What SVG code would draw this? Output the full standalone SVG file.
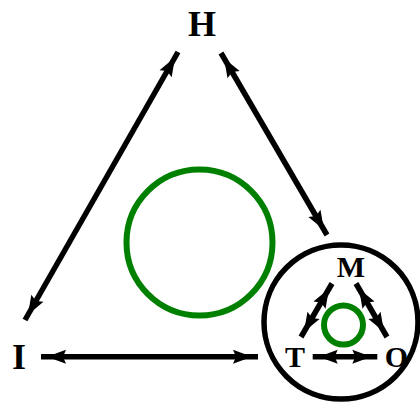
<svg xmlns="http://www.w3.org/2000/svg" width="420" height="405" viewBox="0 0 420 405">
<style>
.lbl{font-family:"Liberation Serif","Times New Roman",serif;font-weight:bold;fill:#000;text-anchor:middle}
.big{font-size:36px}
.sm{font-size:30px}
.edge{stroke:#000;stroke-width:5.5;fill:none;marker-start:url(#ah);marker-end:url(#ah)}
.green{stroke:#008000;stroke-width:6;fill:none}
</style>
<defs>
<marker id="ah" markerUnits="userSpaceOnUse" viewBox="-24 -9 32 18" refX="6" refY="0" markerWidth="32" markerHeight="18" orient="auto-start-reverse">
<path d="M0,0 L-19,-7 L-16,0 L-19,7 Z" fill="#000"/>
</marker>
</defs>
<rect width="420" height="405" fill="#fff"/>
<g id="circle-main"><circle cx="199.5" cy="242.5" r="73" class="green"/></g>
<g id="node-group"><circle cx="341" cy="322" r="77" fill="none" stroke="#000" stroke-width="5.5"/></g>
<g id="circle-inner"><circle cx="343.5" cy="325" r="19.5" class="green" stroke-width="4.5"/></g>
<g id="connectors">
<line class="edge" x1="178" y1="52" x2="25" y2="320"/>
<line class="edge" x1="221" y1="53" x2="327" y2="235"/>
<line class="edge" x1="41" y1="356.7" x2="258" y2="356.7"/>
<line class="edge" x1="332" y1="283.5" x2="301" y2="337"/>
<line class="edge" x1="356" y1="283.5" x2="387" y2="337"/>
<line class="edge" x1="312.7" y1="356.7" x2="377.3" y2="356.7"/>
</g>
<g id="node-H"><text class="lbl big" x="202" y="36">H</text></g>
<g id="node-I"><text class="lbl big" x="19" y="369">I</text></g>
<g id="node-M"><text class="lbl sm" x="351" y="277">M</text></g>
<g id="node-T"><text class="lbl sm" x="295" y="367">T</text></g>
<g id="node-O"><text class="lbl sm" x="396.5" y="367">O</text></g>
</svg>
